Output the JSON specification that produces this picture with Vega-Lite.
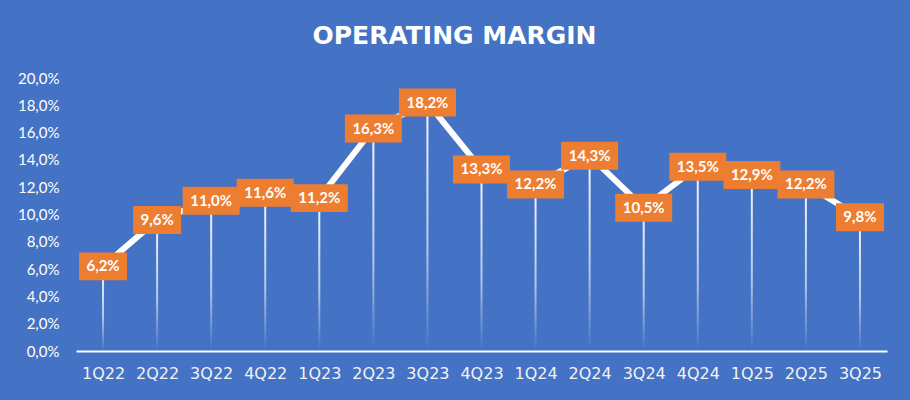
{
  "$schema": "https://vega.github.io/schema/vega-lite/v6.json",
  "width": 811,
  "height": 273,
  "autosize": {"type": "none"},
  "padding": {"left": 76, "top": 78, "right": 23, "bottom": 49},
  "background": "#4472C4",
  "title": {
    "text": "OPERATING MARGIN",
    "color": "white",
    "font": "DejaVu Sans",
    "fontSize": 25,
    "fontWeight": "bold",
    "anchor": "middle",
    "frame": "group",
    "baseline": "alphabetic",
    "offset": 2,
    "dx": -27
  },
  "data": {
    "values": [
      {"q": "1Q22", "v": 0.062},
      {"q": "2Q22", "v": 0.096},
      {"q": "3Q22", "v": 0.110},
      {"q": "4Q22", "v": 0.116},
      {"q": "1Q23", "v": 0.112},
      {"q": "2Q23", "v": 0.163},
      {"q": "3Q23", "v": 0.182},
      {"q": "4Q23", "v": 0.133},
      {"q": "1Q24", "v": 0.122},
      {"q": "2Q24", "v": 0.143},
      {"q": "3Q24", "v": 0.105},
      {"q": "4Q24", "v": 0.135},
      {"q": "1Q25", "v": 0.129},
      {"q": "2Q25", "v": 0.122},
      {"q": "3Q25", "v": 0.098}
    ]
  },
  "encoding": {
    "x": {
      "field": "q",
      "type": "ordinal",
      "sort": null,
      "scale": {"type": "point", "padding": 0.5},
      "axis": {
        "title": null,
        "labelAngle": 0,
        "labelColor": "#F2F2F2",
        "labelFont": "DejaVu Sans",
        "labelFontSize": 16,
        "labelPadding": 14,
        "domainColor": "white",
        "domainWidth": 2,
        "ticks": false,
        "grid": false
      }
    },
    "y": {
      "field": "v",
      "type": "quantitative",
      "scale": {"domain": [0, 0.2], "nice": false},
      "axis": {
        "title": null,
        "values": [0, 0.02, 0.04, 0.06, 0.08, 0.1, 0.12, 0.14, 0.16, 0.18, 0.2],
        "format": ".1%",
        "labelColor": "white",
        "labelFont": "Lato",
        "labelFontSize": 15,
        "labelPadding": 17,
        "domain": false,
        "ticks": false,
        "grid": false
      }
    }
  },
  "layer": [
    {
      "mark": {
        "type": "bar",
        "size": 2,
        "fill": {
          "gradient": "linear",
          "x1": 0, "y1": 0, "x2": 0, "y2": 1,
          "stops": [
            {"offset": 0, "color": "rgba(255,255,255,0.95)"},
            {"offset": 0.6, "color": "rgba(255,255,255,0.6)"},
            {"offset": 1, "color": "rgba(255,255,255,0)"}
          ]
        }
      }
    },
    {
      "mark": {"type": "line", "color": "white", "strokeWidth": 6}
    },
    {
      "mark": {"type": "point", "filled": true, "color": "#ED7D31", "opacity": 1, "size": 3249},
      "encoding": {
        "shape": {
          "condition": {"test": "datum.v < 0.1", "value": "M-0.842,-0.491L0.842,-0.491L0.842,0.491L-0.842,0.491Z"},
          "value": "M-1,-0.491L1,-0.491L1,0.491L-1,0.491Z"
        }
      }
    },
    {
      "mark": {"type": "text", "color": "white", "font": "Lato", "fontSize": 15, "fontWeight": "bold", "baseline": "middle"},
      "encoding": {
        "text": {"field": "v", "type": "quantitative", "format": ".1%"}
      }
    }
  ],
  "config": {
    "view": {"stroke": null},
    "locale": {
      "number": {"decimal": ",", "thousands": ".", "grouping": [3], "currency": ["", " €"]}
    }
  }
}
